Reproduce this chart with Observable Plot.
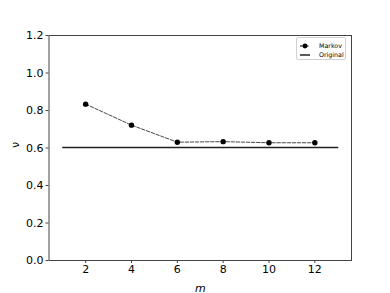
<!DOCTYPE html>
<html>
<head>
<meta charset="utf-8">
<script src="https://cdn.jsdelivr.net/npm/d3@7"></script>
<script src="https://cdn.jsdelivr.net/npm/@observablehq/plot@0.6"></script>
<style>
  html, body { margin: 0; padding: 0; background: #fff; }
  #wrap { position: relative; width: 390px; height: 293px; font-family: "DejaVu Sans", sans-serif; }
  #wrap svg text { font-family: "DejaVu Sans", sans-serif; }
  #wrap svg [aria-label="x-axis label"] text { font-style: italic; }
  .legend { position: absolute; left: 296px; top: 37px; width: 50px; height: 23px;
    border: 1px solid #d0d0d0; border-radius: 2px; background: #fff; box-sizing: border-box;
    font-size: 6.3px; color: #000; }
  .legend .row { position: absolute; left: 2px; height: 8px; display: flex; align-items: center; }
  .legend svg { display: block; }
  .legend span { line-height: 8px; }
</style>
</head>
<body>
<div id="wrap"></div>
<script>
// Data
const mValues = [2, 4, 6, 8, 10, 12];
const markovValues = [0.834, 0.722, 0.631, 0.634, 0.628, 0.628];
const originalM = [1, 13];
const originalValue = 0.603;
const xTicks = [2, 4, 6, 8, 10, 12];
const yTicks = [0, 0.2, 0.4, 0.6, 0.8, 1.0, 1.2];
const seriesNames = ["Markov", "Original"];
const xLabel = "m";
const yLabel = "ν";

const markov = mValues.map((m, i) => ({m, v: markovValues[i]}));
const original = originalM.map(m => ({m, v: originalValue}));

const chart = Plot.plot({
  width: 390,
  height: 293,
  marginLeft: 48.5,
  marginRight: 39,
  marginTop: 35,
  marginBottom: 33,
  style: {fontSize: "11px", fontFamily: "DejaVu Sans, sans-serif", color: "#000", background: "#fff"},
  x: {domain: [0.4, 13.6], ticks: xTicks},
  y: {domain: [0, 1.2], ticks: yTicks},
  marks: [
    Plot.frame({stroke: "#444", strokeWidth: 1}),
    Plot.axisX({ticks: xTicks, tickSize: 3, tickPadding: 2, label: xLabel, labelAnchor: "center", labelArrow: "none", labelOffset: 31, stroke: "#444", fontSize: 11}),
    Plot.axisY({ticks: yTicks, tickSize: 3, tickPadding: 2.5, tickFormat: d3.format(".1f"), label: null, stroke: "#444", fontSize: 11}),
    Plot.text([yLabel], {frameAnchor: "left", text: d => d, rotate: -90, dx: -34, dy: 0, fontSize: 11, fill: "#000"}),
    Plot.line(original, {x: "m", y: "v", stroke: "#222", strokeWidth: 1.4}),
    Plot.line(markov, {x: "m", y: "v", stroke: "#333", strokeWidth: 0.9, strokeDasharray: "3.5,1.6"}),
    Plot.dot(markov, {x: "m", y: "v", r: 2.7, fill: "#000", stroke: "none"})
  ]
});

const wrap = document.getElementById("wrap");
wrap.appendChild(chart);

const legend = document.createElement("div");
legend.className = "legend";
legend.innerHTML = `
  <div class="row" style="top:4px;"><svg width="10" height="8" style="position:absolute;left:1px;top:0"><line x1="0" y1="4" x2="10" y2="4" stroke="#000" stroke-width="1" stroke-dasharray="3.5,1.6"/><circle cx="5" cy="4" r="2.4" fill="#000"/></svg><span style="margin-left:20px">${seriesNames[0]}</span></div>
  <div class="row" style="top:13px;"><svg width="10" height="8" style="position:absolute;left:1px;top:0"><line x1="0" y1="4" x2="10" y2="4" stroke="#000" stroke-width="1.3"/></svg><span style="margin-left:20px">${seriesNames[1]}</span></div>`;
wrap.appendChild(legend);
</script>
</body>
</html>
